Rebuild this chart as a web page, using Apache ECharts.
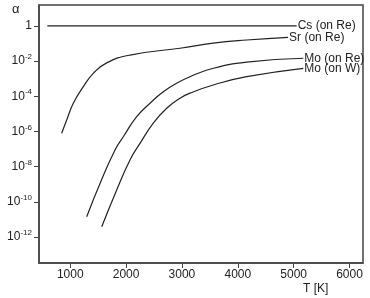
<!DOCTYPE html>
<html>
<head>
<meta charset="utf-8">
<script src="https://cdn.jsdelivr.net/npm/echarts@6/dist/echarts.min.js"></script>
<style>
html, body { margin: 0; padding: 0; background: #fff; }
#chart { width: 370px; height: 298px; }
</style>
</head>
<body>
<div id="chart"></div>
<script>
// temperatures (K) and ionisation efficiency alpha
var csT = [590, 5054];
var csA = [1, 1];

var srT = [847, 937, 1055, 1234, 1413, 1653, 2070, 2965, 3561, 4159, 4900];
var srA = [7.9e-7, 4.5e-6, 4.0e-5, 3.5e-4, 2.0e-3, 7.9e-3, 2.2e-2, 5.4e-2, 0.105, 0.158, 0.224];

var moReT = [1295, 1533, 1802, 1950, 2190, 2428, 2666, 2906, 3144, 3561, 4159, 5173];
var moReA = [1.4e-11, 1.1e-9, 8.9e-8, 5.0e-7, 6.9e-6, 4.0e-5, 1.8e-4, 5.5e-4, 1.3e-3, 3.9e-3, 8.7e-3, 1.45e-2];

var moWT = [1564, 1832, 2070, 2249, 2487, 2727, 2966, 3144, 3561, 4159, 5173];
var moWA = [3.8e-12, 4.7e-10, 2.4e-8, 2.1e-7, 3.0e-6, 2.1e-5, 7.8e-5, 1.5e-4, 4.4e-4, 1.3e-3, 3.9e-3];

var xTicks = [1000, 2000, 3000, 4000, 5000, 6000];
var yTicks = [1e-12, 1e-10, 1e-8, 1e-6, 1e-4, 1e-2, 1];

var font = 'Liberation Sans, Arial, sans-serif';
var ink = '#222';

function pairs(t, a) {
	var out = [];
	for (var i = 0; i < t.length; i++) out.push([t[i], a[i]]);
	return out;
}

function line(name, t, a) {
	return {
		name: name,
		type: 'line',
		data: pairs(t, a),
		smooth: 0.5,
		showSymbol: false,
		lineStyle: { color: ink, width: 1.2 },
		endLabel: {
			show: true,
			formatter: name,
			distance: 1,
			color: ink,
			fontSize: 12,
			fontFamily: font
		},
		silent: true
	};
}

var myChart = echarts.init(document.getElementById('chart'));

var option = {
	animation: false,
	grid: {
		left: 39, right: 7, top: 5, bottom: 35,
		show: true, borderColor: '#444', borderWidth: 1.5
	},
	xAxis: {
		type: 'value',
		min: 441,
		max: 6241,
		axisLine: { show: true, lineStyle: { color: '#444', width: 1.5 } },
		axisTick: { show: true, customValues: xTicks, length: 5, lineStyle: { color: '#444' } },
		axisLabel: {
			customValues: xTicks,
			formatter: function (v) { return String(v); },
			color: ink, fontSize: 12, fontFamily: font, margin: 6
		},
		splitLine: { show: false }
	},
	yAxis: {
		type: 'log',
		logBase: 10,
		min: 3.3e-14,
		max: 15.5,
		axisLine: { show: true, lineStyle: { color: '#444', width: 1.5 } },
		axisTick: { show: true, customValues: yTicks, length: 5, lineStyle: { color: '#444' } },
		axisLabel: {
			customValues: yTicks,
			margin: 7,
			color: ink, fontSize: 12, fontFamily: font,
			formatter: function (v) {
				var e = Math.round(Math.log(v) / Math.LN10);
				if (e === 0) return '1';
				return '{b|10}{s|' + e + '}';
			},
			rich: {
				b: { fontSize: 12, lineHeight: 16, fontFamily: font, color: ink },
				s: { fontSize: 8, lineHeight: 9, verticalAlign: 'top', fontFamily: font, color: ink }
			}
		},
		splitLine: { show: false }
	},
	graphic: [
		{ type: 'text', left: 12, top: 3, style: { text: 'α', font: '13px ' + font, fill: ink } },
		{ type: 'text', left: 303, top: 283, style: { text: 'T [K]', font: '12px ' + font, fill: ink } }
	],
	series: [
		line('Cs (on Re)', csT, csA),
		line('Sr (on Re)', srT, srA),
		line('Mo (on Re)', moReT, moReA),
		line('Mo (on W)', moWT, moWA)
	]
};

myChart.setOption(option);
</script>
</body>
</html>
